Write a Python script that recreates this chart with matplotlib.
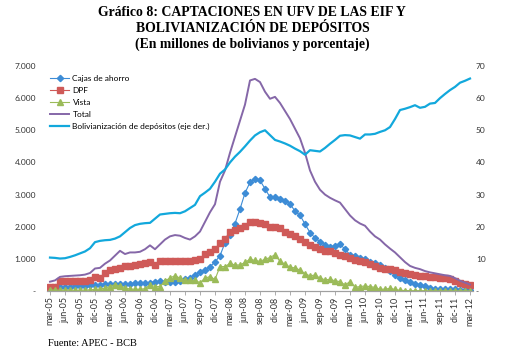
import matplotlib
matplotlib.use('Agg')
import matplotlib.pyplot as plt
import numpy as np

# Monthly data, mar-05 .. mar-12 (85 months)
cajas = [100, 110, 120, 130, 140, 150, 160, 170, 180, 190, 200, 210, 215, 220, 225, 230, 230, 235,
         240, 250, 260, 280, 300, 290, 270, 280, 300, 360, 420, 510, 580, 660, 760, 900, 1100,
         1500, 1750, 2100, 2550, 3050, 3380, 3500, 3440, 3180, 2920, 2920, 2870, 2800, 2720,
         2480, 2360, 2080, 1820, 1650, 1530, 1440, 1360, 1410, 1460, 1300, 1130, 1090, 1040,
         990, 890, 880, 810, 710, 620, 500, 400, 340, 280, 230, 180, 150, 90, 70, 60, 55, 50,
         50, 45, 45, 40]
dpf = [120, 140, 300, 310, 310, 320, 320, 310, 330, 440, 400, 560, 640, 690, 730, 770, 790, 810,
       830, 880, 900, 820, 940, 940, 940, 940, 940, 940, 940, 950, 990, 1140, 1220, 1320, 1480,
       1620, 1840, 1900, 1960, 2030, 2160, 2140, 2110, 2080, 2000, 1980, 1950, 1830, 1780, 1700,
       1630, 1530, 1440, 1370, 1300, 1260, 1230, 1180, 1130, 1080, 1020, 980, 940, 890, 840,
       780, 710, 690, 680, 640, 600, 560, 520, 490, 470, 460, 450, 430, 420, 400, 385, 320,
       260, 220, 190]
vista = [30, 30, 25, 25, 30, 25, 25, 30, 35, 50, 60, 90, 140, 200, 160, 100, 60, 55, 55, 70, 190,
         140, 140, 320, 400, 480, 400, 340, 340, 330, 260, 400, 450, 360, 760, 760, 860, 810, 810,
         890, 990, 950, 920, 990, 1040, 1130, 920, 840, 740, 720, 650, 540, 470, 500, 400, 350,
         360, 320, 290, 190, 290, 120, 135, 160, 135, 115, 50, 60, 80, 50, 20, 15, 10, 10, 10,
         10, 8, 8, 8, 6, 6, 6, 5, 5, 5]
total = [290, 330, 440, 460, 470, 480, 490, 510, 560, 700, 720, 850, 950, 1100, 1250, 1150, 1200,
         1200, 1220, 1300, 1420, 1300, 1450, 1600, 1700, 1740, 1720, 1650, 1600, 1700, 1850, 2150,
         2450, 2700, 3400, 3750, 4300, 4800, 5300, 5800, 6550, 6600, 6500, 6200, 5980, 6040,
         5850, 5600, 5350, 5050, 4750, 4300, 3750, 3400, 3150, 3000, 2900, 2820, 2750, 2550,
         2350, 2200, 2100, 2030, 1850, 1700, 1600, 1450, 1320, 1200, 1050, 900, 780, 720, 680,
         620, 580, 550, 520, 490, 470, 400, 320, 260, 200]
boliv = [10.4, 10.3, 10.1, 10.2, 10.6, 11.1, 11.7, 12.3, 13.3, 15.2, 15.6, 15.8, 15.9, 16.3, 17.0,
         18.3, 19.6, 20.5, 20.9, 21.1, 21.2, 22.5, 23.8, 24.0, 24.2, 24.3, 24.2, 24.8, 25.8, 26.8,
         29.5, 30.6, 31.8, 34.0, 36.5, 37.8, 40.0, 41.8, 43.3, 45.0, 46.8, 48.4, 49.4, 50.0, 48.5,
         47.0, 46.5, 45.9, 45.2, 44.3, 43.5, 42.4, 43.8, 43.6, 43.4, 44.5, 45.8, 47.0, 48.3, 48.5,
         48.4, 47.9, 47.4, 48.7, 48.7, 48.9, 49.5, 50.0, 51.0, 53.5, 56.3, 56.7, 57.2, 57.8, 57.0,
         57.3, 58.3, 58.5, 60.0, 61.3, 62.5, 63.5, 64.8, 65.4, 66.1]

meses = ['mar', 'jun', 'sep', 'dic']
tick_labels = ['%s-%02d' % (m, a) for a in range(5, 13) for m in meses][:29]
x = np.arange(len(total))

plt.rcParams['font.family'] = ['Lato', 'DejaVu Sans']

fig = plt.figure(figsize=(5.12, 3.54), dpi=100)
ax = fig.add_axes([47 / 512, 1 - 291 / 354, 426 / 512, 225 / 354])
ax2 = ax.twinx()

l1, = ax.plot(x, cajas, color='#3d8cd6', lw=0.8, marker='D', ms=3.2, label='Cajas de ahorro')
l2, = ax.plot(x, dpf, color='#cf5a58', lw=0.8, marker='s', ms=4.2, label='DPF')
l3, = ax.plot(x, vista, color='#9bbb59', lw=0.8, marker='^', ms=3.8, label='Vista')
l4, = ax.plot(x, total, color='#8567a8', lw=1.4, label='Total')
l5, = ax2.plot(x, boliv, color='#12a8dc', lw=1.6, label='Bolivianización de depósitos (eje der.)')

ax.set_xlim(-0.6, 84.6)
ax.set_ylim(0, 7000)
ax2.set_ylim(0, 70)

ax.set_yticks(range(0, 7001, 1000))
ax.set_yticklabels(['-'] + ['{:,}'.format(v).replace(',', '.') for v in range(1000, 7001, 1000)])
ax2.set_yticks(range(0, 71, 10))
ax2.set_yticklabels(['-'] + [str(v) for v in range(10, 71, 10)])

ax.set_xticks(x[::3])
ax.set_xticklabels(tick_labels, rotation=90)

for a in (ax, ax2):
    for s in ['top', 'left', 'right']:
        a.spines[s].set_visible(False)
    a.spines['bottom'].set_color('#a0a0a0')
    a.spines['bottom'].set_linewidth(0.8)

ax.tick_params(axis='y', length=0, labelsize=6, pad=8, colors='#333333')
ax2.tick_params(axis='y', length=0, labelsize=6, pad=2, colors='#333333')
ax.tick_params(axis='x', length=3, width=0.6, color='#a0a0a0', labelsize=6.5, pad=1,
               labelcolor='#333333')

ax2.legend(handles=[l1, l2, l3, l4, l5], loc='upper left', bbox_to_anchor=(50 / 512, 1 - 75 / 354),
           bbox_transform=fig.transFigure, frameon=False, fontsize=6, handlelength=2.3,
           handletextpad=0.4, labelspacing=0.6, borderaxespad=0, borderpad=0)

title_font = dict(ha='center', va='center', family='Liberation Serif', weight='bold', fontsize=9.9)
fig.text(0.493, 1 - 12 / 354, 'Gráfico 8: CAPTACIONES EN UFV DE LAS EIF Y', **title_font)
fig.text(0.493, 1 - 28 / 354, 'BOLIVIANIZACIÓN DE DEPÓSITOS', **title_font)
fig.text(0.493, 1 - 44 / 354, '(En millones de bolivianos y porcentaje)', **title_font)
fig.text(48 / 512, 1 - 344 / 354, 'Fuente: APEC - BCB', ha='left', va='center',
         family='Liberation Serif', fontsize=7.5)

fig.savefig('out.png', dpi=100)
